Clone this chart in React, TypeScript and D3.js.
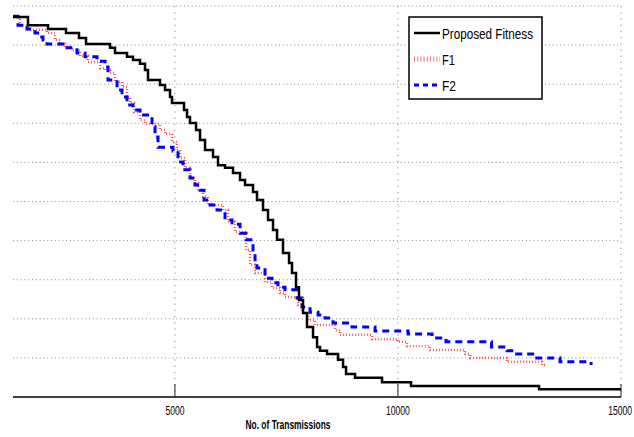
import React from "react";
import * as d3 from "d3";

// x: No. of transmissions, y: fitness level (unlabelled axis, 0..10)
const propX = [1370,1706,2155,2558,2850,3007,3545,3657,3926,4060,4217,4329,4397,4666,4778,4890,4935,5204,5271,5338,5473,5563,5675,5854,5966,6123,6302,6459,6571,6751,6840,6975,7087,7199,7289,7423,7558,7625,7715,7782,7872,7961,8096,8186,8253,8410,8657,8769,8836,9038,9643,10293,13163,15000];
const propY = [9.72,9.51,9.41,9.31,9.18,9.03,8.93,8.80,8.70,8.62,8.52,8.36,8.11,7.98,7.85,7.67,7.52,7.34,7.16,7.01,6.83,6.57,6.32,6.14,5.93,5.86,5.73,5.55,5.42,5.24,5.04,4.78,4.53,4.27,4.02,3.68,3.43,3.17,2.81,2.48,2.15,1.79,1.53,1.28,1.18,1.10,0.95,0.77,0.59,0.49,0.38,0.28,0.20,0.20];

const f1X = [1370,1527,1684,2132,2312,2424,2536,2693,2872,3052,3321,3433,3545,3657,3814,3926,3993,4083,4217,4329,4666,4778,4935,5047,5114,5226,5338,5450,5518,5630,5742,6078,6190,6347,6594,6684,6796,7020,7177,7356,7468,7760,7849,7984,8141,8589,8701,9419,10002,10203,10719,11504,11616,12445,13230,13297];
const f1Y = [9.72,9.51,9.39,9.31,9.13,9.03,8.95,8.87,8.72,8.57,8.41,8.36,8.29,8.06,7.93,7.67,7.52,7.29,7.08,6.98,6.83,6.73,6.52,6.32,6.11,5.86,5.60,5.47,5.29,5.12,4.91,4.78,4.48,4.22,3.76,3.38,3.17,2.94,2.79,2.66,2.56,2.35,2.15,1.97,1.84,1.71,1.59,1.48,1.41,1.30,1.20,1.10,1.00,0.90,0.82,0.82];

const f2X = [1370,1482,1684,1863,1975,2043,2132,2581,2805,2984,3253,3433,3500,3702,3814,3926,4060,4217,4486,4554,4621,4957,5069,5181,5338,5450,5563,5652,5787,5944,6123,6280,6459,6594,6751,6796,6840,7020,7177,7311,7468,7737,7849,8029,8208,8365,8544,8970,9486,10226,10764,11078,12097,12445,12625,13073,13634,14329];
const f2Y = [9.74,9.51,9.41,9.31,9.21,9.13,9.03,8.93,8.80,8.70,8.59,8.44,8.11,7.85,7.67,7.47,7.34,7.21,6.91,6.65,6.39,6.29,6.01,5.81,5.60,5.42,5.29,5.04,4.91,4.78,4.53,4.42,4.19,4.02,3.76,3.45,3.30,3.04,2.92,2.81,2.74,2.53,2.30,2.17,2.10,2.02,1.89,1.79,1.69,1.61,1.51,1.41,1.28,1.18,1.10,1.00,0.90,0.82];

const xTicks = [5000, 10000, 15000];
const xTickLabels = ["5000", "10000", "15000"];
const yGrid = [1, 2, 3, 4, 5, 6, 7, 8, 9, 10];
const legendLabels = ["Proposed Fitness", "F1", "F2"];
const legendWidths = [91, 13, 14];

export default function App() {
  const W = 634, H = 437;
  const left = 13, right = 621, top = 6, bottom = 397;
  const x = d3.scaleLinear().domain([1370, 15000]).range([left, right]);
  const y = d3.scaleLinear().domain([0, 10]).range([bottom, top]);
  const line = (xs: number[], ys: number[]) =>
    d3.line<number>().x((_, i) => x(xs[i])).y((d) => y(d)).curve(d3.curveStepAfter)(ys) || "";

  const font = "'Liberation Sans', Arial, Helvetica, sans-serif";
  const legX = 409, legY = 17, legW = 133, legH = 82;
  const legRows = [39, 65, 91];

  return (
    <svg width={W} height={H} style={{ position: "absolute", left: 0, top: 0, background: "#fff" }}>
      <rect x={0} y={0} width={W} height={H} fill="#fff" />
      {/* grid */}
      {yGrid.map((v) => (
        <line key={"h" + v} x1={left} x2={right} y1={y(v)} y2={y(v)} stroke="#888" strokeWidth={1} strokeDasharray="1,2.8" />
      ))}
      {xTicks.map((v) => (
        <line key={"v" + v} x1={x(v)} x2={x(v)} y1={top} y2={bottom} stroke="#888" strokeWidth={1} strokeDasharray="1.2,5" />
      ))}
      {/* axis */}
      <line x1={left} x2={right} y1={bottom} y2={bottom} stroke="#000" strokeWidth={1.6} />
      {xTicks.map((v) => (
        <line key={"t" + v} x1={x(v)} x2={x(v)} y1={bottom} y2={bottom - 13} stroke="#222" strokeWidth={1} />
      ))}
      {xTicks.map((v, i) => {
        const last = i === xTicks.length - 1;
        return (
          <text key={"l" + v} transform={`translate(${last ? 632 : x(v)},415) scale(0.66,1)`} textAnchor={last ? "end" : "middle"}
            fontFamily={font} fontSize={13} fill="#000">{xTickLabels[i]}</text>
        );
      })}
      <text x={288} y={429} textAnchor="middle" fontFamily={font} fontSize={12} fontWeight="bold"
        textLength={85} lengthAdjust="spacingAndGlyphs" fill="#000">No. of Transmissions</text>

      {/* series */}
      <path d={line(f1X, f1Y)} fill="none" stroke="#ff5a5a" strokeWidth={2.5} strokeDasharray="1,2" />
      <path d={line(f2X, f2Y)} fill="none" stroke="#0000ff" strokeWidth={3} strokeDasharray="7,5" />
      <path d={line(propX, propY)} fill="none" stroke="#000" strokeWidth={2.5} />

      {/* legend */}
      <rect x={legX} y={legY} width={legW} height={legH} fill="#fff" stroke="#000" strokeWidth={1.5} />
      <line x1={414} x2={440} y1={legRows[0] - 6} y2={legRows[0] - 6} stroke="#000" strokeWidth={2.5} />
      <line x1={414} x2={440} y1={legRows[1] - 6} y2={legRows[1] - 6} stroke="#ff7070" strokeWidth={5} strokeDasharray="1,2.2" />
      <line x1={414} x2={440} y1={legRows[2] - 6} y2={legRows[2] - 6} stroke="#0000ff" strokeWidth={3} strokeDasharray="5,4" />
      {legendLabels.map((t, i) => (
        <text key={t} x={442} y={legRows[i]} fontFamily={font} fontSize={15} textLength={legendWidths[i]}
          lengthAdjust="spacingAndGlyphs" fill="#000">{t}</text>
      ))}
    </svg>
  );
}
